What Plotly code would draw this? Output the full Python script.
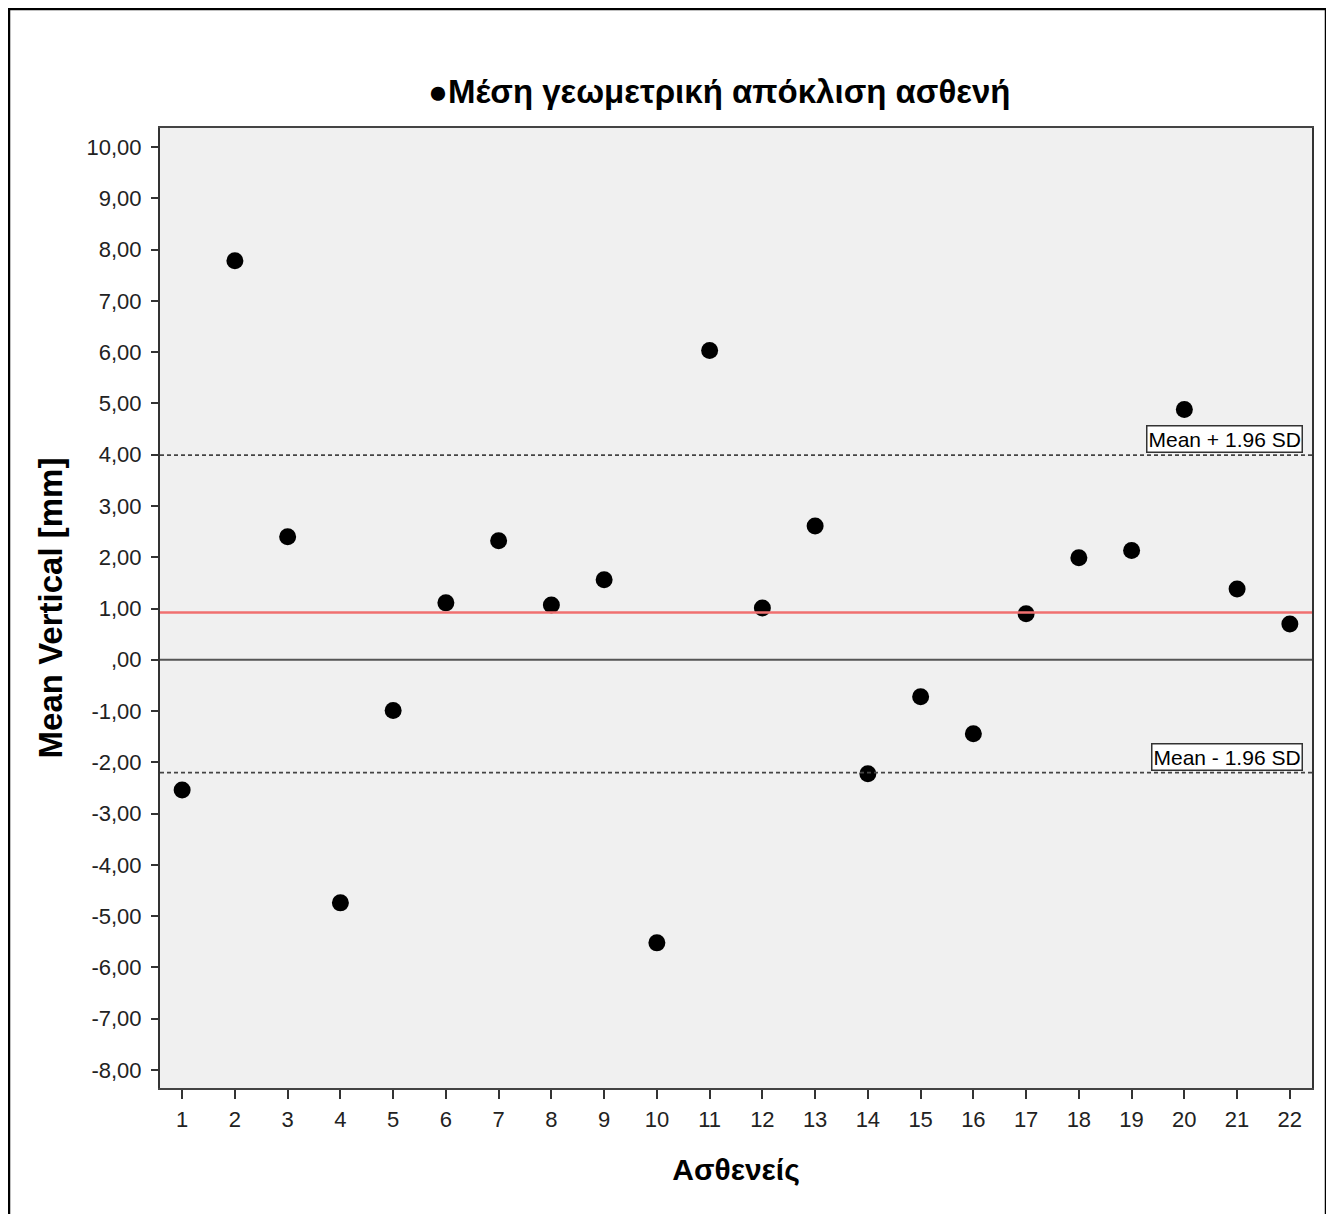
import plotly.graph_objects as go

patients = list(range(1, 23))
mean_vertical = [-2.54, 7.78, 2.40, -4.74, -0.99, 1.11, 2.32, 1.07, 1.56, -5.52, 6.03,
                 1.01, 2.61, -2.22, -0.72, -1.44, 0.90, 1.99, 2.13, 4.88, 1.38, 0.70]
mean_line = 0.92
upper_loa = 3.99
lower_loa = -2.20
y_ticks = list(range(-8, 11))
y_tick_labels = [(f"{v},00" if v != 0 else ",00") for v in y_ticks]

# page body has an 8px margin; work in reference pixel coordinates and shift
OFF = 8
W, H = 1334 - OFF, 1214 - OFF
L, R, T, B = 160 - OFF, 1334 - 1312, 128 - OFF, 1214 - 1088
pw, ph = W - L - R, H - T - B

def px(x):
    return (x - OFF - L) / pw

def py(y):
    return (H - B - (y - OFF)) / ph

fig = go.Figure()
fig.add_trace(go.Scatter(
    x=patients, y=mean_vertical, mode="markers",
    marker=dict(color="black", size=17),
    name="Μέση γεωμετρική απόκλιση ασθενή", showlegend=False))

font_main = "Liberation Sans, Arial, sans-serif"

shapes = [
    dict(type="line", xref="paper", yref="y", x0=0, x1=1, y0=0, y1=0,
         line=dict(color="#555555", width=2)),
    dict(type="line", xref="paper", yref="y", x0=0, x1=1, y0=mean_line, y1=mean_line,
         line=dict(color="#f07070", width=2.5)),
    dict(type="line", xref="paper", yref="y", x0=0, x1=1, y0=upper_loa, y1=upper_loa,
         line=dict(color="#444444", width=1.8, dash="4px,3px")),
    dict(type="line", xref="paper", yref="y", x0=0, x1=1, y0=lower_loa, y1=lower_loa,
         line=dict(color="#444444", width=1.8, dash="4px,3px")),
    dict(type="rect", xref="paper", yref="paper", x0=px(9), x1=px(1326), y0=py(1240), y1=py(9),
         line=dict(color="black", width=2.5), fillcolor="rgba(0,0,0,0)", layer="above"),
]

annotations = [
    dict(xref="paper", yref="paper", x=px(719), y=py(92), text="<b>●Μέση γεωμετρική απόκλιση ασθενή</b>",
         showarrow=False, font=dict(family=font_main, size=33, color="black"),
         xanchor="center", yanchor="middle"),
    dict(xref="paper", yref="y", x=px(1303), y=upper_loa, text="Mean + 1.96 SD",
         showarrow=False, xanchor="right", yanchor="bottom", yshift=2,
         font=dict(family=font_main, size=21, color="black"),
         bgcolor="white", bordercolor="#333333", borderwidth=1.5, borderpad=1),
    dict(xref="paper", yref="y", x=px(1303), y=lower_loa, text="Mean - 1.96 SD",
         showarrow=False, xanchor="right", yanchor="bottom", yshift=2,
         font=dict(family=font_main, size=21, color="black"),
         bgcolor="white", bordercolor="#333333", borderwidth=1.5, borderpad=1),
]

fig.update_layout(
    width=W, height=H,
    margin=dict(l=L, r=R, t=T, b=B),
    paper_bgcolor="white", plot_bgcolor="#f0f0f0",
    shapes=shapes, annotations=annotations,
    font=dict(family=font_main, color="#222222"),
    xaxis=dict(
        range=[0.58, 22.42], tickmode="array", tickvals=patients,
        ticktext=[str(p) for p in patients],
        ticks="outside", ticklen=9, tickwidth=2, tickcolor="#333333",
        tickfont=dict(size=22, color="#222222"), ticklabelstandoff=2,
        showgrid=False, zeroline=False,
        showline=True, linecolor="#444444", linewidth=2, mirror=True,
        title=dict(text="<b>Ασθενείς</b>", font=dict(size=30, color="black"), standoff=28),
    ),
    yaxis=dict(
        range=[-8.35, 10.37], tickmode="array", tickvals=y_ticks, ticktext=y_tick_labels,
        ticks="outside", ticklen=7, tickwidth=2, tickcolor="#333333",
        tickfont=dict(size=22, color="#222222"), ticklabelstandoff=5,
        showgrid=False, zeroline=False,
        showline=True, linecolor="#333333", linewidth=2, mirror=True,
        title=dict(text="<b>Mean Vertical [mm]</b>", font=dict(size=33, color="black"), standoff=14),
    ),
)

fig.write_html("out.html")
